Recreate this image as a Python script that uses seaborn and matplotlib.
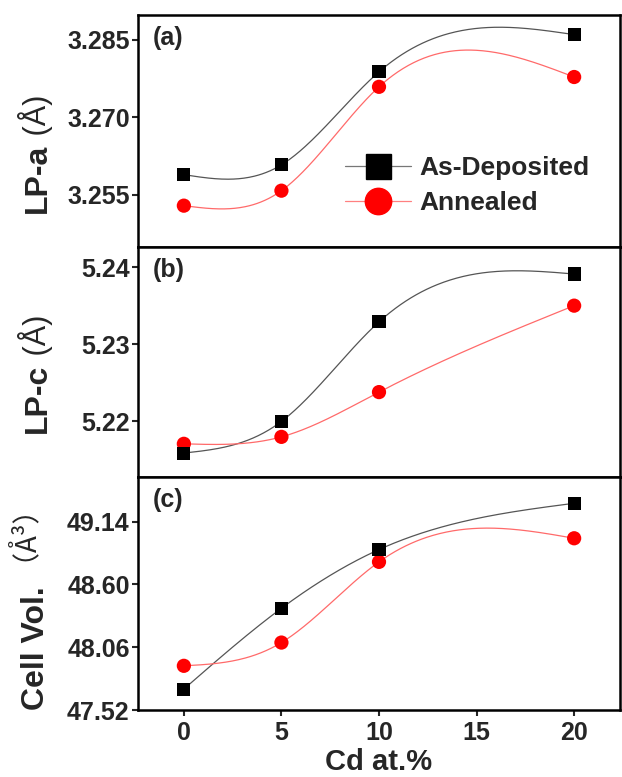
import numpy as np
import matplotlib
matplotlib.use("Agg")
import matplotlib.pyplot as plt
import seaborn as sns
from matplotlib.lines import Line2D

# Datos
cd = [0, 5, 10, 20]
lpa_dep = [3.2589, 3.2608, 3.2788, 3.2860]
lpa_ann = [3.2529, 3.2558, 3.2759, 3.2778]
lpc_dep = [5.2159, 5.2200, 5.2329, 5.2391]
lpc_ann = [5.2171, 5.2180, 5.2238, 5.2350]
vol_dep = [47.70, 48.395, 48.90, 49.298]
vol_ann = [47.90, 48.10, 48.794, 48.997]

series_names = ["As-Deposited", "Annealed"]
panel_tags = ["(a)", "(b)", "(c)"]
yticks_a = [3.255, 3.270, 3.285]
yticks_b = [5.22, 5.23, 5.24]
yticks_c = [47.52, 48.06, 48.60, 49.14]
xticks = [0, 5, 10, 15, 20]

FAM = ["Liberation Sans", "Noto Sans CJK SC", "DejaVu Sans"]


def spline_curve(x, y, n=300):
    # spline cúbico natural (conector suave tipo Origin)
    x = np.asarray(x, float)
    y = np.asarray(y, float)
    k = len(x)
    h = np.diff(x)
    A = np.zeros((k, k))
    b = np.zeros(k)
    A[0, 0] = A[-1, -1] = 1
    for i in range(1, k - 1):
        A[i, i - 1] = h[i - 1]
        A[i, i] = 2 * (h[i - 1] + h[i])
        A[i, i + 1] = h[i]
        b[i] = 3 * ((y[i + 1] - y[i]) / h[i] - (y[i] - y[i - 1]) / h[i - 1])
    c = np.linalg.solve(A, b)
    xs = np.linspace(x[0], x[-1], n)
    idx = np.clip(np.searchsorted(x, xs) - 1, 0, k - 2)
    dx = xs - x[idx]
    bb = (y[idx + 1] - y[idx]) / h[idx] - h[idx] * (2 * c[idx] + c[idx + 1]) / 3
    d = (c[idx + 1] - c[idx]) / (3 * h[idx])
    ys = y[idx] + bb * dx + c[idx] * dx ** 2 + d * dx ** 3
    return xs, ys


sns.set_theme(style="ticks")
plt.rcParams["font.family"] = FAM
plt.rcParams["font.weight"] = "bold"

fig = plt.figure(figsize=(6.22, 7.77), dpi=100)
W, H = 622, 777

# posiciones de los paneles (px: arriba, abajo)
boxes = [(15, 247), (247, 477), (477, 710)]
axes = []
for top, bot in boxes:
    ax = fig.add_axes([138 / W, 1 - bot / H, 482 / W, (bot - top) / H])
    axes.append(ax)

datos = [(lpa_dep, lpa_ann, yticks_a, (3.2449, 3.2898), "%.3f"),
         (lpc_dep, lpc_ann, yticks_b, (5.2128, 5.2426), "%.2f"),
         (vol_dep, vol_ann, yticks_c, (47.52, 49.524), "%.2f")]

for i, (ax, (dep, ann, yt, ylim, fmt)) in enumerate(zip(axes, datos)):
    xs, ys = spline_curve(cd, dep)
    sns.lineplot(x=xs, y=ys, ax=ax, color="#555555", linewidth=0.9, sort=False, estimator=None)
    xs, ys = spline_curve(cd, ann)
    sns.lineplot(x=xs, y=ys, ax=ax, color="#ff6a6a", linewidth=0.9, sort=False, estimator=None)
    sns.scatterplot(x=cd, y=dep, ax=ax, marker="s", s=88, color="black", edgecolor="none", zorder=4)
    sns.scatterplot(x=cd, y=ann, ax=ax, marker="o", s=105, color="#ff0000", edgecolor="none", zorder=3)

    ax.set_xlim(-2.35, 22.35)
    ax.set_ylim(*ylim)
    ax.set_yticks(yt)
    ax.set_yticklabels([fmt % v for v in yt])
    ax.set_xticks(xticks)
    for s in ax.spines.values():
        s.set_linewidth(1.8)
        s.set_color("black")
        s.set_visible(True)
    ax.tick_params(axis="y", direction="out", length=4, width=1.5, labelsize=18, pad=2)
    ax.tick_params(axis="x", direction="out", length=4, width=1.5, labelsize=18, pad=4)
    if i < 2:
        ax.tick_params(axis="x", length=0, labelbottom=False)
    ax.set_xlabel("")
    ax.set_ylabel("")
    ax.text(0.031, 0.90, panel_tags[i], transform=ax.transAxes, fontsize=18,
            fontweight="bold", ha="left", va="center")

axes[2].set_xlabel("Cd at.%", fontsize=21, fontweight="bold", labelpad=2)

# leyenda
handles = [Line2D([], [], color="#777777", linewidth=0.9, marker="s", markersize=18,
                  markerfacecolor="black", markeredgecolor="black"),
           Line2D([], [], color="#ff8080", linewidth=0.9, marker="o", markersize=19,
                  markerfacecolor="#ff0000", markeredgecolor="#ff0000")]
axes[0].legend(handles, series_names, loc="center left", bbox_to_anchor=(0.43, 0.265),
               frameon=False, prop={"family": FAM, "weight": "bold", "size": 19},
               handlelength=2.5, handletextpad=0.3, labelspacing=0.4,
               borderpad=0, borderaxespad=0)

# etiquetas Y: parte en negrita + parte normal (dx2 = desplazamiento de la parte normal)
fig.canvas.draw()
r = fig.canvas.get_renderer()
etiquetas = [("LP-a", " (Å)", FAM, 46, 0, 213, 22),
             ("LP-c", " (Å)", FAM, 46, 0, 433, 22),
             ("Cell Vol.", " （Å³）", ["Noto Sans CJK SC"], 44, -8, 710, 20)]
for bold_txt, reg_txt, fam_reg, xpx, dx2, ypx, fs2 in etiquetas:
    t1 = fig.text(xpx / W, 1 - ypx / H, bold_txt, rotation=90, rotation_mode="anchor",
                  ha="left", va="baseline", fontsize=23, fontweight="bold", family=FAM)
    h1 = t1.get_window_extent(r).height
    fig.text((xpx + dx2) / W, 1 - (ypx - h1) / H, reg_txt, rotation=90, rotation_mode="anchor",
             ha="left", va="baseline", fontsize=fs2, fontweight="normal", family=fam_reg)

fig.savefig("out.png", dpi=100)
